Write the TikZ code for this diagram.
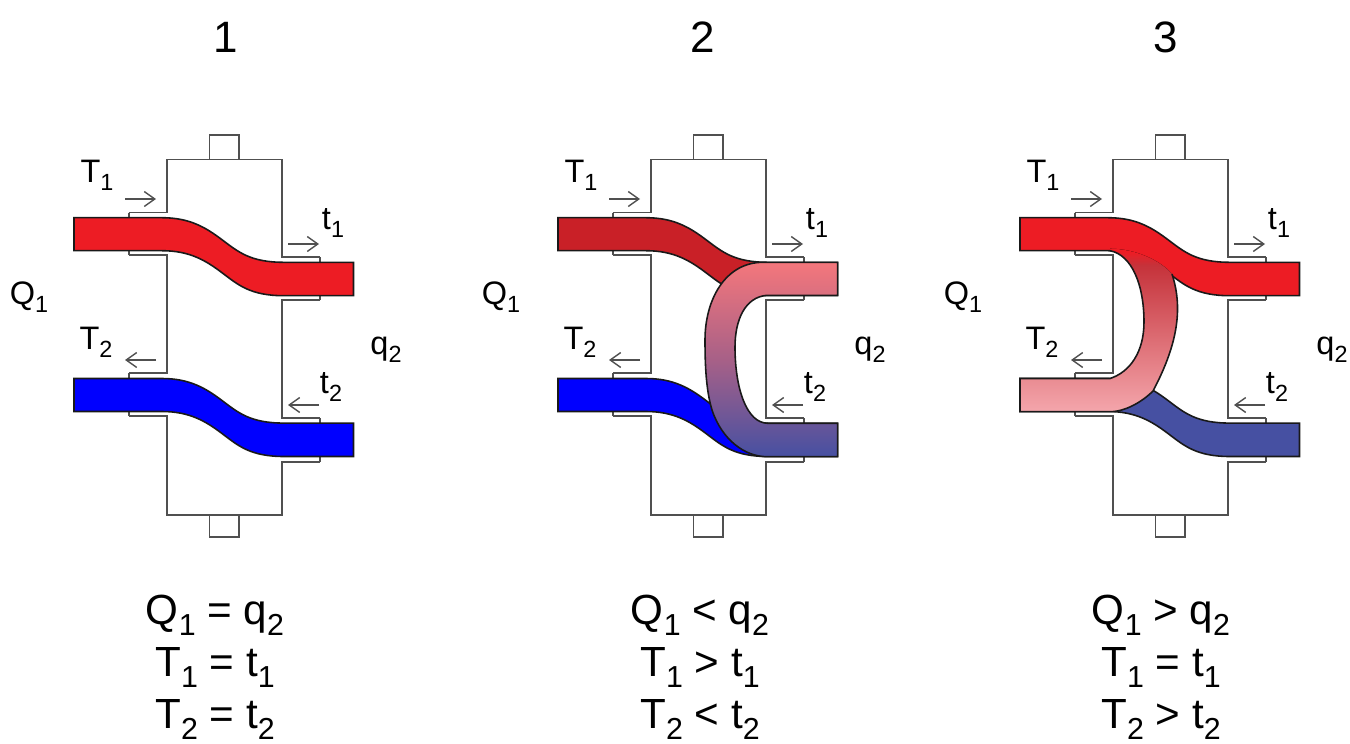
\documentclass[tikz,border=0pt]{standalone}
\usepackage{fontspec}
\setmainfont{Liberation Sans}
\usetikzlibrary{arrows.meta}
\definecolor{hotred}{HTML}{ED1C24}
\definecolor{dullred}{HTML}{C92027}
\definecolor{coldblue}{HTML}{0000FF}
\definecolor{dullblue}{HTML}{4650A2}
\definecolor{linegray}{HTML}{505050}
\definecolor{palered}{HTML}{F4A6AC}
\definecolor{darkband}{HTML}{C5323A}
\newcommand{\lowered}[1]{\raisebox{-.25em}{\scalebox{.72}{#1}}}
% band of dark red just under the top of the return pipe
\pgfdeclareverticalshading{returnflow}{100bp}{color(0bp)=(palered); color(25bp)=(palered); color(70bp)=(darkband); color(74bp)=(hotred); color(100bp)=(hotred)}
\tikzset{
	wall/.style={draw=linegray,line width=1.1pt},
	flow/.style={draw=linegray,line width=0.8pt,->},
	pipe/.style={draw=black!90,line width=0.9pt},
	side/.style={font=\fontsize{18.5}{20}\selectfont,inner sep=0pt},
	title/.style={font=\fontsize{25}{26}\selectfont,inner sep=0pt},
	balance/.style={font=\fontsize{24}{29.6}\selectfont,align=center,inner sep=0pt}
}
% one S shaped pipe, left end at the given height
\newcommand{\spipe}[3]{
	\draw [pipe,fill=#3] (#1+74,#2) -- (#1+162,#2) .. controls (#1+190,#2) and (#1+206,#2+10) .. (#1+222,#2+22) .. controls (#1+238,#2+34) and (#1+250,#2+44.6) .. (#1+284,#2+44.6) -- (#1+353.5,#2+44.6) -- (#1+353.5,#2+78) -- (#1+284,#2+78) .. controls (#1+250,#2+78) and (#1+238,#2+67) .. (#1+222,#2+55) .. controls (#1+206,#2+43) and (#1+190,#2+33) .. (#1+162,#2+33) -- (#1+74,#2+33) -- cycle;
}
\begin{document}
\begin{tikzpicture}[x=0.02cm,y=-0.02cm,>={Straight Barb[length=6pt,width=8.5pt]}]

	\useasboundingbox (0,0) rectangle (1350,744);

	% the three housings with their labels
	\foreach \n/\dx/\qx/\tx/\ex/\ao/\bo/\co in {
		1/0/29/226/215/=/=/=,
		2/484/501/703/700/</>/</,
		3/946/963/1166/1161/>/=/>} {
		\draw [wall] (\dx+128.7,255) -- (\dx+167,255) -- (\dx+167,372.7) -- (\dx+128.7,372.7);
		\draw [wall] (\dx+128.7,212.5) -- (\dx+167,212.5) -- (\dx+167,159.5) -- (\dx+281.7,159.5) -- (\dx+281.7,257) -- (\dx+320,257);
		\draw [wall] (\dx+320,300) -- (\dx+281.7,300) -- (\dx+281.7,418) -- (\dx+320,418);
		\draw [wall] (\dx+128.7,416) -- (\dx+167,416) -- (\dx+167,514.7) -- (\dx+281.7,514.7) -- (\dx+281.7,462) -- (\dx+320,462);
		\draw [wall] (\dx+209.5,135) rectangle (\dx+238.7,159.5);
		\draw [wall] (\dx+209.5,514.7) rectangle (\dx+238.7,537);
		\draw [wall] (\dx+128.7,212.5) -- (\dx+128.7,217);
		\draw [wall] (\dx+128.7,255) -- (\dx+128.7,251);
		\draw [wall] (\dx+128.7,372.7) -- (\dx+128.7,378);
		\draw [wall] (\dx+128.7,416) -- (\dx+128.7,412);
		\draw [wall] (\dx+320,257) -- (\dx+320,262);
		\draw [wall] (\dx+320,300) -- (\dx+320,296);
		\draw [wall] (\dx+320,418) -- (\dx+320,423);
		\draw [wall] (\dx+320,462) -- (\dx+320,457);
		\draw [flow] (\dx+125,199) -- (\dx+156,199);
		\draw [flow] (\dx+288,244) -- (\dx+319,244);
		\draw [flow] (\dx+156,360) -- (\dx+125,360);
		\draw [flow] (\dx+319,405) -- (\dx+288,405);
		\node [side] (T1-\n) at (\dx+97,175) {T\lowered{1}};
		\node [side] (t1-\n) at (\dx+333,223) {t\lowered{1}};
		\node [side] (T2-\n) at (\dx+96,342) {T\lowered{2}};
		\node [side] (t2-\n) at (\dx+331,387) {t\lowered{2}};
		\node [side] (Q-\n) at (\qx,297) {Q\lowered{1}};
		\node [side] (q-\n) at (\dx+386,350) {q\lowered{2}};
		\node [title] (num-\n) at (\tx,37) {\n};
		\node [balance,anchor=north] (bal-\n) at (\ex,595) {Q\lowered{1} \ao{} q\lowered{2}\\T\lowered{1} \bo{} t\lowered{1}\\T\lowered{2} \co{} t\lowered{2}};
	}

	% case 1
	\spipe{0}{217.7}{hotred}
	\spipe{0}{378.5}{coldblue}

	% case 2
	\spipe{484}{217.7}{dullred}
	\spipe{484}{378.5}{coldblue}
	\draw [pipe,top color=hotred!60!white,bottom color=dullblue,middle color=hotred!45!dullblue!80!white] (837.7,262.3) -- (837.7,295.3) -- (767,295.3) .. controls (745,297) and (735,320) .. (735,347) .. controls (735,387) and (746,423.3) .. (768,423.3) -- (837.7,423.3) -- (837.7,456.7) -- (767,456.7) .. controls (745,456.7) and (722,440) .. (712,410) .. controls (706,390) and (705,365) .. (705,340) .. controls (705,300) and (725,262.3) .. (763,262.3) -- cycle;

	% case 3
	\spipe{946}{378.5}{dullblue}
	\spipe{946}{217.7}{hotred}
	\fill [shading=returnflow] (1110,248.7) .. controls (1135,248.7) and (1160,260) .. (1172,274) .. controls (1182,305) and (1180,340) .. (1153,391) .. controls (1142,402) and (1125,411.7) .. (1110,411.7) -- (1020,411.7) -- (1020,378.5) -- (1110,378.5) .. controls (1130,372) and (1144,352) .. (1144,322) .. controls (1144,285) and (1132,255) .. (1110,250.7) -- cycle;
	\draw [pipe] (1172,274) .. controls (1182,305) and (1180,340) .. (1153,391) .. controls (1142,402) and (1125,411.7) .. (1110,411.7) -- (1020,411.7) -- (1020,378.5) -- (1110,378.5) .. controls (1130,372) and (1144,352) .. (1144,322) .. controls (1144,285) and (1132,255) .. (1110,250.7);

\end{tikzpicture}
\end{document}
